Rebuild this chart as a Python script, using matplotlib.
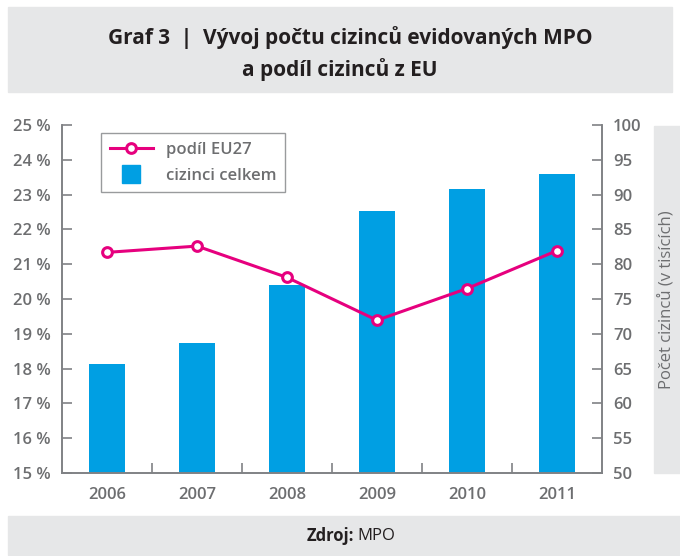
import matplotlib.pyplot as plt
from matplotlib.patches import Rectangle
from matplotlib.lines import Line2D
from matplotlib.ticker import FixedLocator, NullFormatter

plt.rcParams['font.family'] = ['Open Sans', 'DejaVu Sans']

# data
years = ['2006', '2007', '2008', '2009', '2010', '2011']
cizinci_celkem = [65.7, 68.7, 77.0, 87.6, 90.8, 93.0]   # tisíce
podil_eu27 = [21.34, 21.52, 20.62, 19.39, 20.30, 21.39]  # %

left_ticks = list(range(15, 26))
right_ticks = list(range(50, 101, 5))

grey_txt = '#6d6e70'
axis_col = '#808285'
box_col = '#e6e7e8'
bar_col = '#009fe3'
line_col = '#e6007e'

fig = plt.figure(figsize=(6.8, 5.56), dpi=100)

# header / footer / side boxes
fig.patches.append(Rectangle((8 / 680, 1 - 92 / 556), 664 / 680, 85 / 556,
                             transform=fig.transFigure, color=box_col, zorder=0))
fig.patches.append(Rectangle((8 / 680, 1 - 555 / 556), 672 / 680, 39 / 556,
                             transform=fig.transFigure, color=box_col, zorder=0))
fig.patches.append(Rectangle((654 / 680, 1 - 473 / 556), 26 / 680, 347 / 556,
                             transform=fig.transFigure, color=box_col, zorder=0))

fig.text(0.515, 1 - 38 / 556, 'Graf 3  |  Vývoj počtu cizinců evidovaných MPO',
         ha='center', va='center', fontsize=15, fontweight='bold', color='#231f20')
fig.text(0.5, 1 - 70 / 556, 'a podíl cizinců z EU',
         ha='center', va='center', fontsize=15, fontweight='bold', color='#231f20')
fig.text(354 / 680, 1 - 536 / 556, 'Zdroj:', ha='right', va='center',
         fontsize=12, fontweight='bold', color='#231f20')
fig.text(357 / 680, 1 - 536 / 556, 'MPO', ha='left', va='center',
         fontsize=12, color='#231f20')
fig.text(667 / 680, 1 - 300 / 556, 'Počet cizinců (v tisících)', rotation=90,
         ha='center', va='center', fontsize=12, color=grey_txt)

ax = fig.add_axes([62 / 680, 1 - 473 / 556, 540 / 680, 348 / 556])
ax2 = ax.twinx()

x = list(range(len(years)))
ax2.bar(x, [v - 50 for v in cizinci_celkem], bottom=50, width=0.4, color=bar_col, zorder=1)
ax.plot(x, podil_eu27, color=line_col, lw=2.2, marker='o', ms=7, mfc='white',
        mec=line_col, mew=2.2, zorder=5)
ax.set_zorder(ax2.get_zorder() + 1)
ax.patch.set_visible(False)

ax.set_xlim(-0.5, 5.5)
ax.set_ylim(15, 25)
ax2.set_ylim(50, 100)

ax.set_yticks(left_ticks)
ax.set_yticklabels([f'{t} %' for t in left_ticks], fontweight='semibold')
ax2.set_yticks(right_ticks)
ax2.set_yticklabels([str(t) for t in right_ticks], fontweight='semibold')

ax.xaxis.set_major_locator(FixedLocator([i + 0.5 for i in range(5)]))
ax.xaxis.set_major_formatter(NullFormatter())
ax.xaxis.set_minor_locator(FixedLocator(x))
ax.set_xticklabels(years, minor=True, fontweight='semibold')
ax.tick_params(axis='x', which='minor', length=0, pad=10, labelsize=12, labelcolor=grey_txt)
ax.tick_params(axis='x', which='major', direction='in', length=7, color=axis_col, width=1.2)
ax.tick_params(axis='y', direction='in', length=7, color=axis_col, width=1.2,
               labelsize=12, labelcolor=grey_txt, pad=8)
ax2.tick_params(axis='y', direction='in', length=7, color=axis_col, width=1.2,
                labelsize=12, labelcolor=grey_txt, pad=8)

for a in (ax, ax2):
    a.spines['top'].set_visible(False)
    for s in ('left', 'right', 'bottom'):
        a.spines[s].set_color(axis_col)
        a.spines[s].set_linewidth(1.2)

handles = [Line2D([0], [0], color=line_col, lw=2.2, marker='o', ms=7, mfc='white',
                  mec=line_col, mew=2.2),
           Line2D([0], [0], color=bar_col, lw=0, marker='s', ms=13)]
leg = ax.legend(handles, ['podíl EU27', 'cizinci celkem'], loc='upper left',
                bbox_to_anchor=((93 - 62) / 540, 1.0), fontsize=12,
                frameon=True, fancybox=False, edgecolor=axis_col,
                handlelength=2.6, borderpad=0.5, labelspacing=0.6,
                prop={'weight': 'semibold', 'size': 12})
leg.get_frame().set_linewidth(1.0)
for t in leg.get_texts():
    t.set_color(grey_txt)

fig.savefig('out.png', dpi=100)
